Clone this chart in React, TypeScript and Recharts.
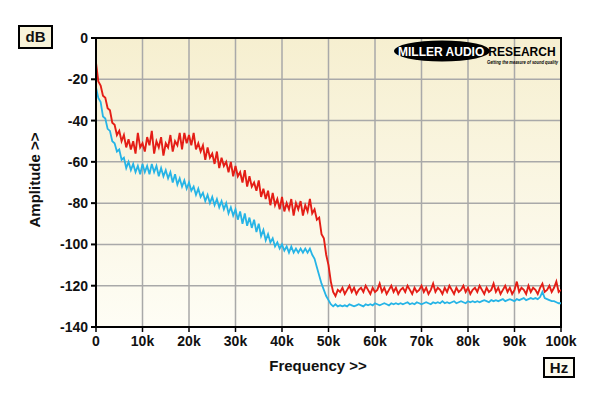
import React from 'react';
import { LineChart, Line, XAxis, YAxis, CartesianGrid, ReferenceArea } from 'recharts';

// frequency grid, 500 Hz steps 0..100k
const freqs = Array.from({ length: 201 }, (_, i) => i * 500);

const redDb = [
  -12, -21, -23, -28, -29, -34, -35, -41, -42, -47, -45, -50, -47, -53, -49, -54, -50, -56, -46, -53,
  -51, -55, -48, -52, -45, -56, -50, -53, -48, -57, -51, -53, -47, -55, -50, -52, -46, -54, -46, -51,
  -47, -52, -46, -54, -51, -55, -52, -59, -53, -58, -56, -61, -55, -63, -58, -62, -60, -65, -60, -67,
  -62, -67, -65, -70, -64, -72, -67, -72, -70, -74, -69, -77, -73, -78, -74, -81, -75, -81, -78, -83,
  -77, -84, -80, -83, -78, -86, -80, -83, -79, -86, -81, -84, -78, -85, -83, -88, -87, -95, -97, -105,
  -110, -118, -123, -125, -122,
  -123, -121, -124, -122, -120, -123, -121, -124, -122, -121, -123, -120,
  -122, -124, -121, -123, -122, -119, -123, -121, -124, -122, -120, -123,
  -121, -124, -122, -121, -123, -120, -122, -124, -121, -123, -122, -120,
  -123, -121, -124, -122, -119, -123, -121, -122, -124, -121, -123, -120,
  -122, -124, -121, -123, -122, -120, -123, -121, -124, -122, -121, -123,
  -120, -122, -124, -121, -123, -122, -119, -123, -121, -124, -122, -120,
  -123, -121, -124, -122, -118, -123, -121, -122, -124, -120, -123, -121,
  -122, -124, -121, -119, -123, -122, -120, -123, -121, -118, -123, -122,
];

const cyanDb = [
  -24, -29, -31, -38, -39, -44, -45, -50, -51, -55, -54, -59, -58, -63, -60, -64, -61, -65, -62, -66,
  -61, -65, -62, -66, -61, -65, -62, -67, -63, -67, -64, -68, -65, -70, -66, -71, -68, -72, -69, -73,
  -70, -74, -72, -76, -73, -77, -75, -79, -76, -80, -77, -81, -78, -82, -79, -83, -80, -85, -82, -86,
  -83, -88, -84, -90, -85, -91, -87, -92, -88, -94, -90, -96, -93, -98, -95, -99, -97, -101, -99, -102,
  -100, -103, -101, -104, -101, -104, -102, -104, -102, -104, -102, -104, -102, -105, -107, -111, -115, -119, -122, -125,
  -127, -129, -130, -129, -130,
  -129.5, -130, -129.5, -130, -129, -129.5, -130, -129.5, -129, -129.5, -130, -129,
  -129.5, -129, -129.5, -128.5, -129, -129.5, -129, -128.5, -129, -129.5, -128.5, -129,
  -128.5, -129, -128.5, -129, -128.5, -128, -129, -128.5, -129, -128, -128.5, -129,
  -128.5, -128, -128.5, -129, -128, -128.5, -128, -128.5, -127.5, -128.5, -128, -128.5,
  -128, -127.5, -128.5, -128, -127.5, -128, -128.5, -127.5, -128, -127.5, -128, -127.5,
  -128, -127.5, -127, -127.5, -128, -127, -127.5, -127, -127.5, -127, -126.5, -127.5,
  -127, -126.5, -127, -127.5, -126.5, -127, -126.5, -126, -127, -126.5, -126, -126.5,
  -126, -126.5, -125.5, -123, -126, -126.5, -127, -127.5, -127.5, -128, -128.5, -128.5,
];

const xTicks = [0, 10000, 20000, 30000, 40000, 50000, 60000, 70000, 80000, 90000, 100000];
const yTicks = [0, -20, -40, -60, -80, -100, -120, -140];

const data = freqs.map((f, i) => ({ f, red: redDb[i], cyan: cyanDb[i] }));

const font = '"Liberation Sans", Arial, sans-serif';
const tickStyle = { fill: '#111', fontSize: 14, fontWeight: 'bold', fontFamily: font };

export default function App() {
  return (
    <div style={{ position: 'absolute', left: 0, top: 0, width: 600, height: 396, background: '#fff' }}>
      <LineChart
        width={600}
        height={396}
        data={data}
        margin={{ top: 38, right: 39, bottom: 39, left: 46 }}
      >
        <defs>
          <linearGradient id="bg" x1="0" y1="0" x2="0" y2="1">
            <stop offset="0%" stopColor="#f6efd0" />
            <stop offset="100%" stopColor="#fefdf5" />
          </linearGradient>
        </defs>
        <CartesianGrid fill="url(#bg)" stroke="#a9a9a9" strokeWidth={1.5} />
        <XAxis
          type="number"
          dataKey="f"
          domain={[0, 100000]}
          ticks={xTicks}
          tickFormatter={(v: number) => (v === 0 ? '0' : v / 1000 + 'k')}
          tick={tickStyle}
          tickSize={5}
          tickMargin={4}
          height={30}
          axisLine={{ stroke: '#000', strokeWidth: 2 }}
          tickLine={{ stroke: '#000', strokeWidth: 1.5 }}
          allowDataOverflow
        />
        <YAxis
          type="number"
          domain={[-140, 0]}
          ticks={yTicks}
          tick={tickStyle}
          tickSize={5}
          tickMargin={3}
          width={50}
          axisLine={{ stroke: '#000', strokeWidth: 2 }}
          tickLine={{ stroke: '#000', strokeWidth: 2 }}
          allowDataOverflow
        />
        <ReferenceArea
          x1={0}
          x2={100000}
          y1={-140}
          y2={0}
          fill="none"
          stroke="#000"
          strokeWidth={2}
          fillOpacity={0}
          ifOverflow="visible"
        />
        <Line
          dataKey="cyan"
          stroke="#26b4e6"
          strokeWidth={1.8}
          dot={false}
          isAnimationActive={false}
        />
        <Line
          dataKey="red"
          stroke="#e41e16"
          strokeWidth={1.9}
          dot={false}
          isAnimationActive={false}
        />
      </LineChart>
      <svg
        width={600}
        height={396}
        style={{ position: 'absolute', left: 0, top: 0, pointerEvents: 'none', fontFamily: font }}
      >
        <rect x={19} y={26} width={33} height={22} fill="#f8f3d9" stroke="#000" strokeWidth={2} />
        <text x={35.5} y={42} textAnchor="middle" fontSize={15} fontWeight="bold" fill="#111">dB</text>
        <rect x={544} y={358} width={30} height={19} fill="#fdfbf0" stroke="#000" strokeWidth={2} />
        <text x={559} y={373} textAnchor="middle" fontSize={15} fontWeight="bold" fill="#111">Hz</text>
        <text x={318} y={371} textAnchor="middle" fontSize={15} fontWeight="bold" fill="#111">Frequency &gt;&gt;</text>
        <text
          x={40}
          y={180}
          textAnchor="middle"
          fontSize={15}
          fontWeight="bold"
          fill="#111"
          transform="rotate(-90 40 180)"
        >
          Amplitude &gt;&gt;
        </text>
        <ellipse cx={442} cy={51} rx={48} ry={10.5} fill="#000" />
        <text x={398} y={55.5} fontSize={12} fontWeight="bold">
          <tspan fill="#fff">MILLER AUDIO</tspan>
          <tspan fill="#000" dx={4}>RESEARCH</tspan>
        </text>
        <text x={487} y={63.5} fontSize={5} fontWeight="bold" fontStyle="italic" fill="#000" textLength={71} lengthAdjust="spacingAndGlyphs">Getting the measure of sound quality</text>
      </svg>
    </div>
  );
}
